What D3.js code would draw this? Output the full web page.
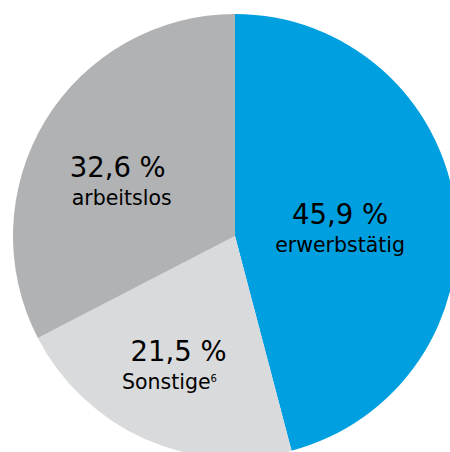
<!DOCTYPE html>
<html>
<head>
<meta charset="utf-8">
<script src="https://cdn.jsdelivr.net/npm/d3@7"></script>
<style>
  html, body { margin: 0; padding: 0; background: #fff; }
  svg { display: block; }
  text { font-family: "DejaVu Sans", sans-serif; fill: #000; }
</style>
</head>
<body>
<svg></svg>
<script>
// shares in percent, clockwise from 12 o'clock
var categories = ["erwerbstätig", "Sonstige", "arbeitslos"];
var values = [45.9, 21.5, 32.6];
var valueLabels = ["45,9 %", "21,5 %", "32,6 %"];
var footnotes = ["", "6", ""];
var colors = ["#009fdf", "#d9dadb", "#b1b2b4"];

var width = 450;
var height = 452;
var cx = 235, cy = 236, radius = 222;

// small nudges so the text blocks sit like the original
var numberShift = [[-16, 4], [-7, 13], [-13, 4]];
var wordShift = [0, -9, 4];

var svg = d3.select("svg")
  .attr("width", width)
  .attr("height", height);

var data = categories.map(function (c, i) {
  return { name: c, value: values[i], label: valueLabels[i], note: footnotes[i], i: i };
});

var pie = d3.pie()
  .sort(null)
  .value(function (d) { return d.value; });

var arc = d3.arc().innerRadius(0).outerRadius(radius);
var labelArc = d3.arc().innerRadius(radius * 0.55).outerRadius(radius * 0.55);

var g = svg.append("g").attr("transform", "translate(" + cx + "," + cy + ")");

g.selectAll("path")
  .data(pie(data))
  .enter().append("path")
  .attr("d", arc)
  .attr("fill", function (d) { return colors[d.data.i]; });

var labels = g.selectAll("g.lbl")
  .data(pie(data))
  .enter().append("g")
  .attr("class", "lbl")
  .attr("transform", function (d) {
    var c = labelArc.centroid(d);
    var s = numberShift[d.data.i];
    return "translate(" + (c[0] + s[0]) + "," + (c[1] + s[1]) + ")";
  });

labels.append("text")
  .attr("text-anchor", "middle")
  .attr("font-size", 27.5)
  .text(function (d) { return d.data.label; });

var words = labels.append("text")
  .attr("text-anchor", "middle")
  .attr("font-size", 20.5)
  .attr("x", function (d) { return wordShift[d.data.i]; })
  .attr("y", 28);

words.append("tspan").text(function (d) { return d.data.name; });
words.filter(function (d) { return d.data.note !== ""; })
  .append("tspan")
  .attr("font-size", 10)
  .attr("dy", -7)
  .text(function (d) { return d.data.note; });
</script>
</body>
</html>
